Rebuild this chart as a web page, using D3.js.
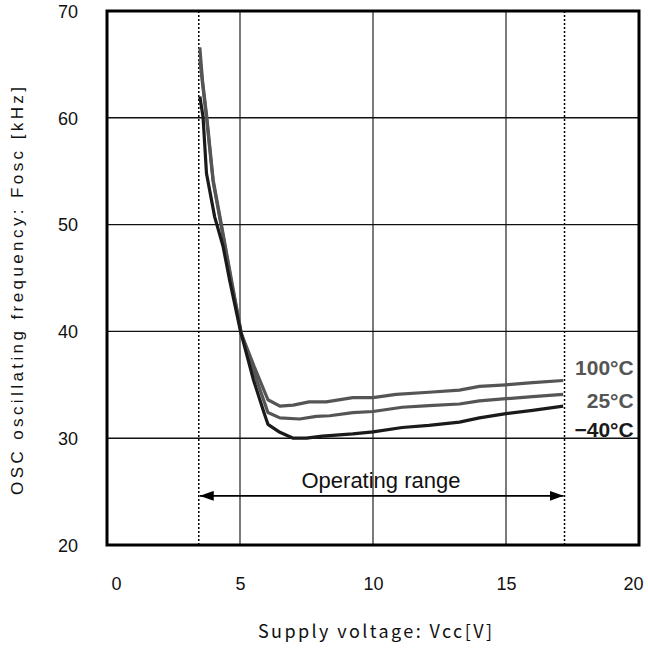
<!DOCTYPE html>
<html>
<head>
<meta charset="utf-8">
<script src="https://cdn.jsdelivr.net/npm/d3@7"></script>
<style>
  html, body { margin: 0; padding: 0; background: #fff; }
  svg { display: block; }
</style>
</head>
<body>
<svg id="chart" width="648" height="654"></svg>
<script>
// ---- data ----
const xTicks = [0, 5, 10, 15, 20];
const yTicks = [20, 30, 40, 50, 60, 70];

const vcc100  = [3.49, 3.59, 3.75, 3.99, 4.3, 4.68, 5.05, 5.55, 6.05, 6.5, 7.0, 7.6, 8.24, 9.24, 10.0, 10.87, 12.1, 13.25, 14.0, 15.0, 16.0, 17.15];
const fosc100 = [66.6, 63.5, 60.1, 54.2, 50.0, 44.8, 39.8, 36.6, 33.6, 33.0, 33.1, 33.4, 33.4, 33.8, 33.8, 34.1, 34.3, 34.5, 34.85, 35.0, 35.2, 35.4];

const vcc25  = [3.49, 3.6, 3.75, 3.99, 4.3, 4.68, 5.05, 5.55, 6.05, 6.5, 7.24, 7.87, 8.37, 9.24, 10.0, 11.1, 12.1, 13.25, 14.0, 15.0, 16.0, 17.15];
const fosc25 = [65.5, 63.0, 59.8, 54.0, 49.8, 44.6, 39.8, 36.0, 32.4, 31.9, 31.8, 32.05, 32.1, 32.4, 32.5, 32.9, 33.05, 33.2, 33.5, 33.7, 33.9, 34.1];

const vccM40  = [3.49, 3.61, 3.74, 4.05, 4.36, 4.61, 5.02, 5.5, 5.9, 6.05, 6.5, 7.0, 7.5, 8.1, 9.24, 10.0, 11.1, 12.1, 13.25, 14.0, 15.0, 16.0, 17.15];
const foscM40 = [62.0, 60.1, 54.8, 50.7, 48.0, 44.8, 40.0, 35.5, 32.4, 31.3, 30.55, 30.0, 30.0, 30.2, 30.4, 30.6, 31.0, 31.2, 31.5, 31.9, 32.3, 32.6, 33.0];

const seriesNames = ["100°C", "25°C", "\u221240°C"];
const opRange = [3.45, 17.2];

// ---- layout ----
const svg = d3.select("#chart");
const L = 107, R = 639, T = 11, B = 545;
const x = d3.scaleLinear().domain([0, 20]).range([L, R]);
const y = d3.scaleLinear().domain([20, 70]).range([B, T]);

// grid lines
const gridX = [5, 10, 15], gridY = [30, 40, 50, 60];
svg.append("g").selectAll("line").data(gridX).join("line")
  .attr("x1", d => x(d)).attr("x2", d => x(d)).attr("y1", T).attr("y2", B)
  .attr("stroke", "#333").attr("stroke-width", 1.3);
svg.append("g").selectAll("line").data(gridY).join("line")
  .attr("x1", L).attr("x2", R).attr("y1", d => y(d)).attr("y2", d => y(d))
  .attr("stroke", "#111").attr("stroke-width", 1.4);

// operating range dotted lines
svg.append("g").selectAll("line").data(opRange).join("line")
  .attr("x1", d => x(d)).attr("x2", d => x(d)).attr("y1", T).attr("y2", B)
  .attr("stroke", "#000").attr("stroke-width", 1.5).attr("stroke-dasharray", "2,2");

// curves
const line = d3.line().x(d => x(d[0])).y(d => y(d[1]));
const series = [
  { xs: vcc100, ys: fosc100, color: "#555" },
  { xs: vcc25,  ys: fosc25,  color: "#555" },
  { xs: vccM40, ys: foscM40, color: "#1a1a1a" }
];
svg.append("g").selectAll("path").data(series).join("path")
  .attr("d", s => line(s.xs.map((v, i) => [v, s.ys[i]])))
  .attr("fill", "none").attr("stroke", s => s.color)
  .attr("stroke-width", 3.2).attr("stroke-linejoin", "round");

// frame
svg.append("rect").attr("x", L).attr("y", T).attr("width", R - L).attr("height", B - T)
  .attr("fill", "none").attr("stroke", "#000").attr("stroke-width", 3);

// axes tick labels
const xAxis = d3.axisBottom(x).tickValues(xTicks).tickSize(0).tickPadding(0);
const gx = svg.append("g").attr("transform", `translate(0,${B})`).call(xAxis);
gx.select(".domain").remove();
gx.selectAll("text").attr("dy", null).attr("y", 45)
  .attr("font-family", "Liberation Sans, Arial, sans-serif").attr("font-size", 18).attr("fill", "#111")
  .attr("dx", d => d === 0 ? 9 : (d === 20 ? -6 : 0));

const yAxis = d3.axisLeft(y).tickValues(yTicks).tickSize(0).tickPadding(0);
const gy = svg.append("g").attr("transform", `translate(${L},0)`).call(yAxis);
gy.select(".domain").remove();
gy.selectAll("text").attr("x", -29).attr("dy", "0.35em")
  .attr("font-family", "Liberation Sans, Arial, sans-serif").attr("font-size", 18).attr("fill", "#111");

// axis titles
svg.append("text").attr("x", 375).attr("y", 638).attr("text-anchor", "middle")
  .attr("font-family", "Noto Sans CJK JP, sans-serif").attr("font-size", 18).attr("fill", "#111")
  .attr("textLength", 234).attr("lengthAdjust", "spacing")
  .text("Supply voltage: Vcc[V]");

svg.append("text").attr("transform", "translate(23,291) rotate(-90)").attr("text-anchor", "middle")
  .attr("font-family", "Liberation Sans, Arial, sans-serif").attr("font-size", 17).attr("fill", "#111")
  .attr("textLength", 408).attr("lengthAdjust", "spacing")
  .text("OSC oscillating frequency: Fosc [kHz]");

// legend labels
const legY = [35.9, 32.85, 30.1];
const legColor = ["#555", "#555", "#1a1a1a"];
svg.append("g").selectAll("text").data(seriesNames).join("text")
  .attr("x", x(19.8)).attr("y", (d, i) => y(legY[i]))
  .attr("text-anchor", "end").attr("font-family", "Liberation Sans, Arial, sans-serif")
  .attr("font-weight", "bold").attr("font-size", 21).attr("fill", (d, i) => legColor[i])
  .text(d => d);

// operating range arrow
const defs = svg.append("defs");
defs.append("marker").attr("id", "ah").attr("viewBox", "0 0 14 10").attr("refX", 14).attr("refY", 5)
  .attr("markerWidth", 14).attr("markerHeight", 10).attr("markerUnits", "userSpaceOnUse")
  .attr("orient", "auto-start-reverse")
  .append("path").attr("d", "M0,0 L14,5 L0,10 Z").attr("fill", "#000");
const arrowY = 24.6;
svg.append("line").attr("x1", x(opRange[0]) + 1).attr("x2", x(opRange[1]) - 1)
  .attr("y1", y(arrowY)).attr("y2", y(arrowY))
  .attr("stroke", "#000").attr("stroke-width", 1.6)
  .attr("marker-start", "url(#ah)").attr("marker-end", "url(#ah)");
svg.append("text").attr("x", x(10.3)).attr("y", y(25.35)).attr("text-anchor", "middle")
  .attr("font-family", "Liberation Sans, Arial, sans-serif").attr("font-size", 22).attr("fill", "#111")
  .text("Operating range");
</script>
</body>
</html>
